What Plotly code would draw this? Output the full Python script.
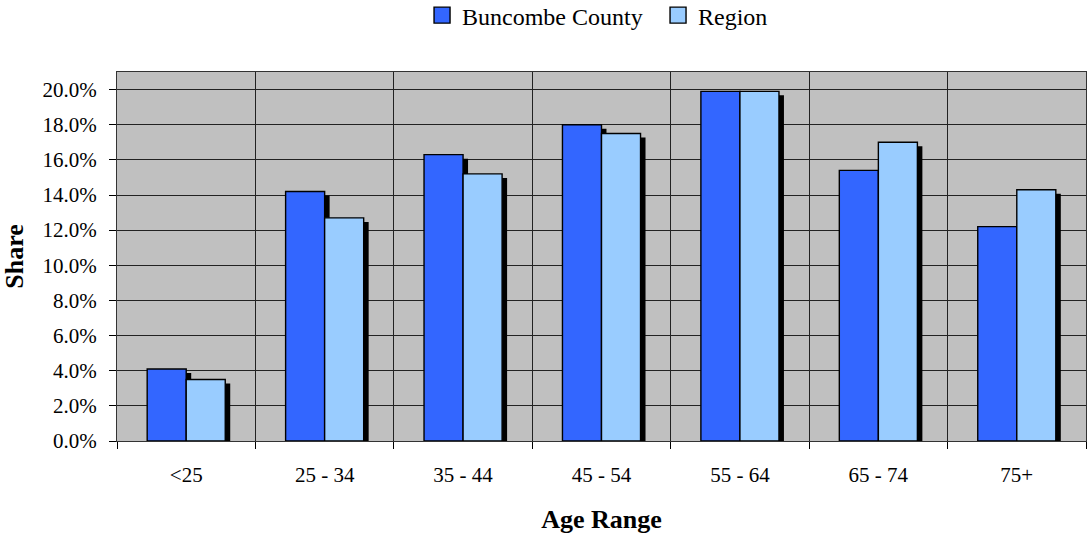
import plotly.graph_objects as go

categories = ["<25", "25 - 34", "35 - 44", "45 - 54", "55 - 64", "65 - 74", "75+"]
buncombe = [0.041, 0.142, 0.163, 0.180, 0.199, 0.154, 0.122]
region = [0.035, 0.127, 0.152, 0.175, 0.199, 0.170, 0.143]
series_names = ["Buncombe County", "Region"]

FONT = "Liberation Serif, Times New Roman, serif"
BW = 0.282          # bar width in category units
SH_X = 0.036        # shadow horizontal shift (category units)
SH_Y = 0.0023       # shadow vertical drop (data units)

fig = go.Figure()

series = [(series_names[0], buncombe, "#3366FF", -BW),
          (series_names[1], region, "#99CCFF", 0.0)]

for name, vals, color, off in series:
    fig.add_trace(go.Bar(
        x=categories, y=[v - SH_Y for v in vals], offset=off + SH_X, width=BW,
        marker=dict(color="black", line=dict(width=0)),
        showlegend=False, hoverinfo="skip"))
    fig.add_trace(go.Bar(
        x=categories, y=vals, offset=off, width=BW, name=name, showlegend=False,
        marker=dict(color=color, line=dict(color="black", width=1.4))))

# legend entries with larger square swatches
for name, vals, color, off in series:
    fig.add_trace(go.Scatter(
        x=[None], y=[None], mode="markers", name=name,
        marker=dict(symbol="square", size=16, color=color,
                    line=dict(color="black", width=1.4))))

fig.update_layout(
    barmode="overlay",
    width=1088, height=535,
    margin=dict(l=117, r=2, t=72, b=94, autoexpand=False),
    paper_bgcolor="white",
    plot_bgcolor="#C0C0C0",
    font=dict(family=FONT, size=21, color="black"),
    legend=dict(orientation="h", x=0.3148, xanchor="left", y=1.153, yanchor="middle",
                font=dict(family=FONT, size=24), traceorder="normal",
                itemwidth=30, entrywidth=191, bgcolor="rgba(0,0,0,0)"),
    xaxis=dict(
        type="category", tickson="boundaries", ticks="outside", ticklen=7,
        tickcolor="black", showgrid=True, gridcolor="#222", gridwidth=1,
        showline=True, linecolor="#333", linewidth=1, mirror=True, automargin=False,
        title=dict(text="<b>Age Range</b>", font=dict(family=FONT, size=26), standoff=23),
        tickfont=dict(family=FONT, size=21), ticklabelstandoff=15,
    ),
    yaxis=dict(
        range=[0, 0.21], dtick=0.02, tickformat=".1%", ticks="outside", ticklen=7,
        tickcolor="black", showgrid=True, gridcolor="#222", gridwidth=1,
        showline=True, linecolor="#333", linewidth=1, mirror=True, zeroline=False,
        automargin=False,
        title=dict(text="<b>Share</b>", font=dict(family=FONT, size=26), standoff=25),
        tickfont=dict(family=FONT, size=21), ticklabelstandoff=8,
    ),
)

# remove the browser's default 8px body margin so the figure sits at the page origin
fig.write_html("out.html", config={"displayModeBar": False},
               post_script="document.body.style.margin='0';")
